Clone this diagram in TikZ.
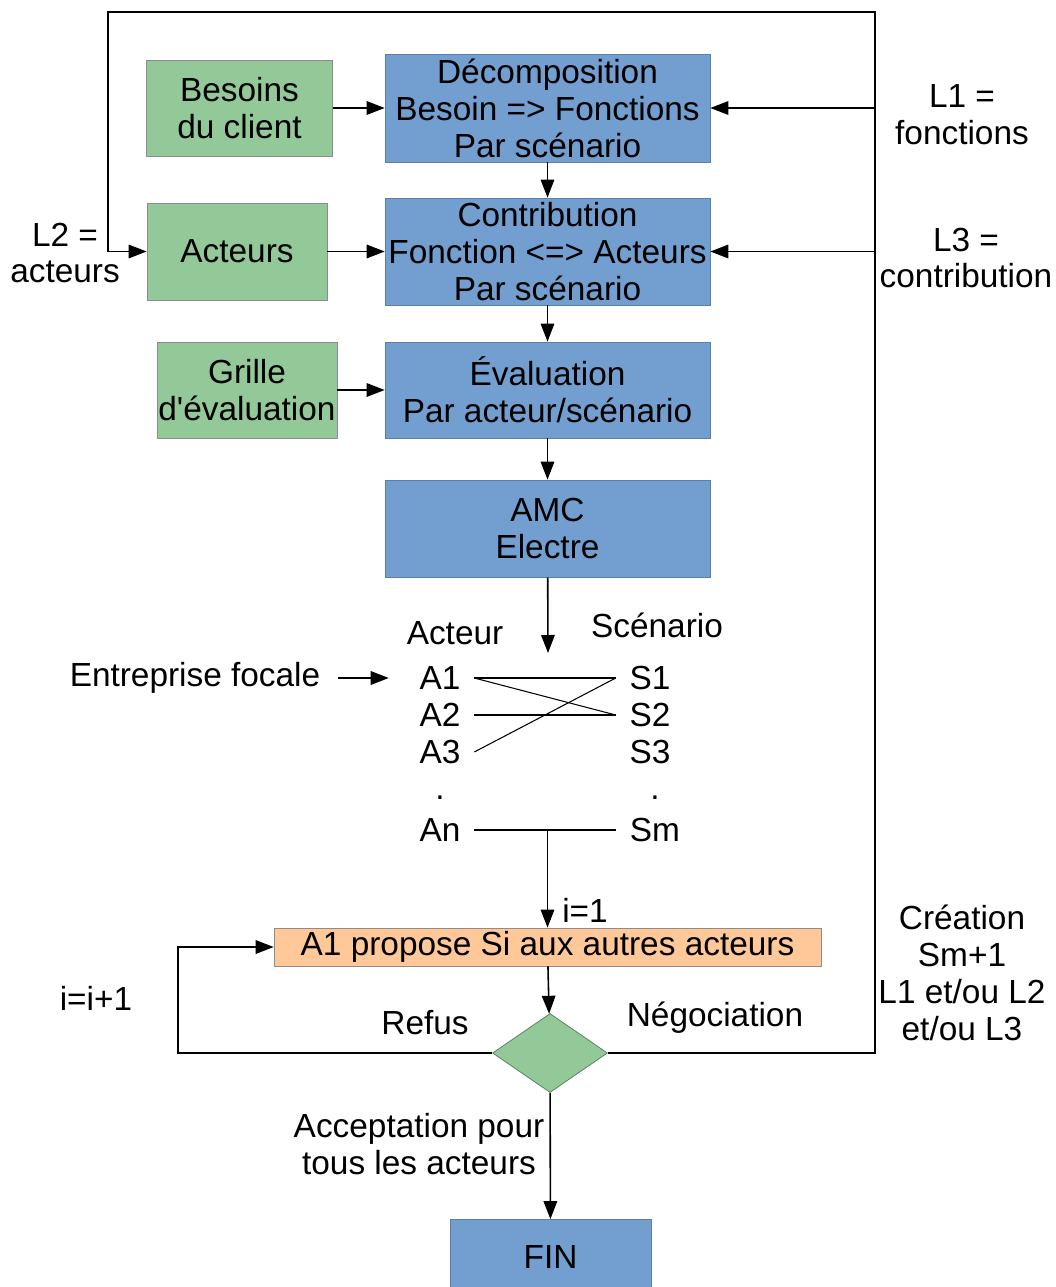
\documentclass[tikz,border=0pt]{standalone}
\usepackage{fontspec}
\setmainfont{Liberation Sans}[Ligatures=TeXOff]
\usepackage{tikz}
\usetikzlibrary{arrows.meta, positioning, shapes.geometric}

\definecolor{bleu}{RGB}{114,159,207}
\definecolor{vert}{RGB}{147,200,152}
\definecolor{orange}{RGB}{255,200,152}

\tikzset{
    etape/.style={draw=bleu!80!black, fill=bleu, minimum width=6.5cm, align=center, inner sep=0pt},
    donnee/.style={draw=black!45, fill=vert, align=center, inner sep=0pt},
    lbl/.style={align=center, inner sep=0pt},
    ligne/.style={inner xsep=0.27cm, inner ysep=0pt},
    fl/.style={-{Triangle[length=0.36cm, width=0.27cm]}, line width=0.9pt},
}

\begin{document}
\begin{tikzpicture}[x=0.02cm, y=-0.02cm, font=\fontsize{19}{21}\selectfont]
    \useasboundingbox (0,0) rectangle (1055,1287);

    % blocs
    \node[donnee, minimum width=3.72cm, minimum height=1.92cm] (bes) at (239.5,108) {Besoins\\du client};
    \node[donnee, minimum width=3.6cm, minimum height=1.94cm] (act) at (237,251.5) {Acteurs};
    \node[donnee, minimum width=3.6cm, minimum height=1.92cm] (gri) at (247,390) {Grille\\d'évaluation};
    \node[etape, minimum height=2.16cm] (dec) at (547.5,108) {Décomposition\\Besoin => Fonctions\\Par scénario};
    \node[etape, minimum height=2.14cm] (con) at (547.5,251.5) {Contribution\\Fonction <=> Acteurs\\Par scénario};
    \node[etape, minimum height=1.92cm] (eva) at (547.5,390) {Évaluation\\Par acteur/scénario};
    \node[etape, minimum height=1.94cm] (amc) at (547.5,528.5) {AMC\\Electre};
    \node[etape, fill=orange, draw=black!45, minimum width=10.94cm, minimum height=0.76cm] (prop) at (547.5,947) {A1 propose Si aux autres acteurs};
    \node[diamond, draw=vert!60!black, fill=vert, minimum width=2.3cm, minimum height=1.58cm, inner sep=0pt] (dia) at (550,1053) {};
    \node[etape, minimum width=4.02cm, minimum height=1.5cm] (fin) at (550.5,1257) {FIN};

    % acteurs / scenarios
    \node[lbl] (acteur) at (455,633) {Acteur};
    \node[lbl] (scen) at (657,625) {Scénario};
    \node[ligne] (a1) at (440,678) {A1};
    \node[ligne] (a2) at (440,715) {A2};
    \node[ligne] (a3) at (440,752) {A3};
    \node[ligne] (pa) at (440,798) {.};
    \node[ligne] (an) at (440,830) {An};
    \node[ligne] (s1) at (650,678) {S1};
    \node[ligne] (s2) at (650,715) {S2};
    \node[ligne] (s3) at (650,752) {S3};
    \node[ligne] (ps) at (655,798) {.};
    \node[ligne] (sm) at (655,830) {Sm};
    \node[lbl] (ent) at (195,678) {Entreprise focale};

    % textes
    \node[lbl] (l1) at (962,115) {L1 =\\fonctions};
    \node[lbl] (l2) at (65,253) {L2 =\\acteurs};
    \node[lbl] (l3) at (966,258) {L3 =\\contribution};
    \node[lbl] (i1) at (585,910) {i=1};
    \node[lbl] (ii) at (96,998) {i=i+1};
    \node[lbl] (refus) at (425,1023) {Refus};
    \node[lbl] (nego) at (715,1018) {Négociation};
    \node[lbl] (crea) at (962,973) {Création\\Sm+1\\L1 et/ou L2\\et/ou L3};
    \node[lbl] (acc) at (419,1144) {Acceptation pour\\tous les acteurs};

    \coordinate (hautd) at (875,12);
    \coordinate (hautg) at (108,12);
    \coordinate (pointe) at (548,653);
    \coordinate (boucle) at (178,1000);

    % fleches
    \draw[fl] (bes) -- (dec);
    \draw[fl] (act) -- (con);
    \draw[fl] (gri) -- (eva);
    \draw[fl] (dec) -- (con);
    \draw[fl] (con) -- (eva);
    \draw[fl] (eva) -- (amc);
    \draw[fl] (amc) -- (pointe);
    \draw[fl] (hautd |- dec.east) -- (dec.east);
    \draw[fl] (hautd |- con.east) -- (con.east);
    \draw[fl] (dia.east) -| (hautd) -- (hautg) |- (act.west);
    \draw[fl] (ent.east) ++(0.34cm,0) -- ([xshift=-0.34cm]a1.west);

    \draw[line width=0.6pt] (a1.east) -- (s1.west);
    \draw[line width=0.6pt] (a1.east) -- (s2.west);
    \draw[line width=0.6pt] (a2.east) -- (s2.west);
    \draw[line width=0.6pt] (a3.east) -- (s1.west);
    \draw[line width=0.6pt] (an.east) -- (sm.west);
    \draw[fl] (an.east -| prop.north) -- (prop.north);

    \draw[fl] (prop) -- (dia);
    \draw[fl] (dia.west) -| (boucle) |- (prop.west);
    \draw[fl] (dia) -- (fin);
\end{tikzpicture}
\end{document}
